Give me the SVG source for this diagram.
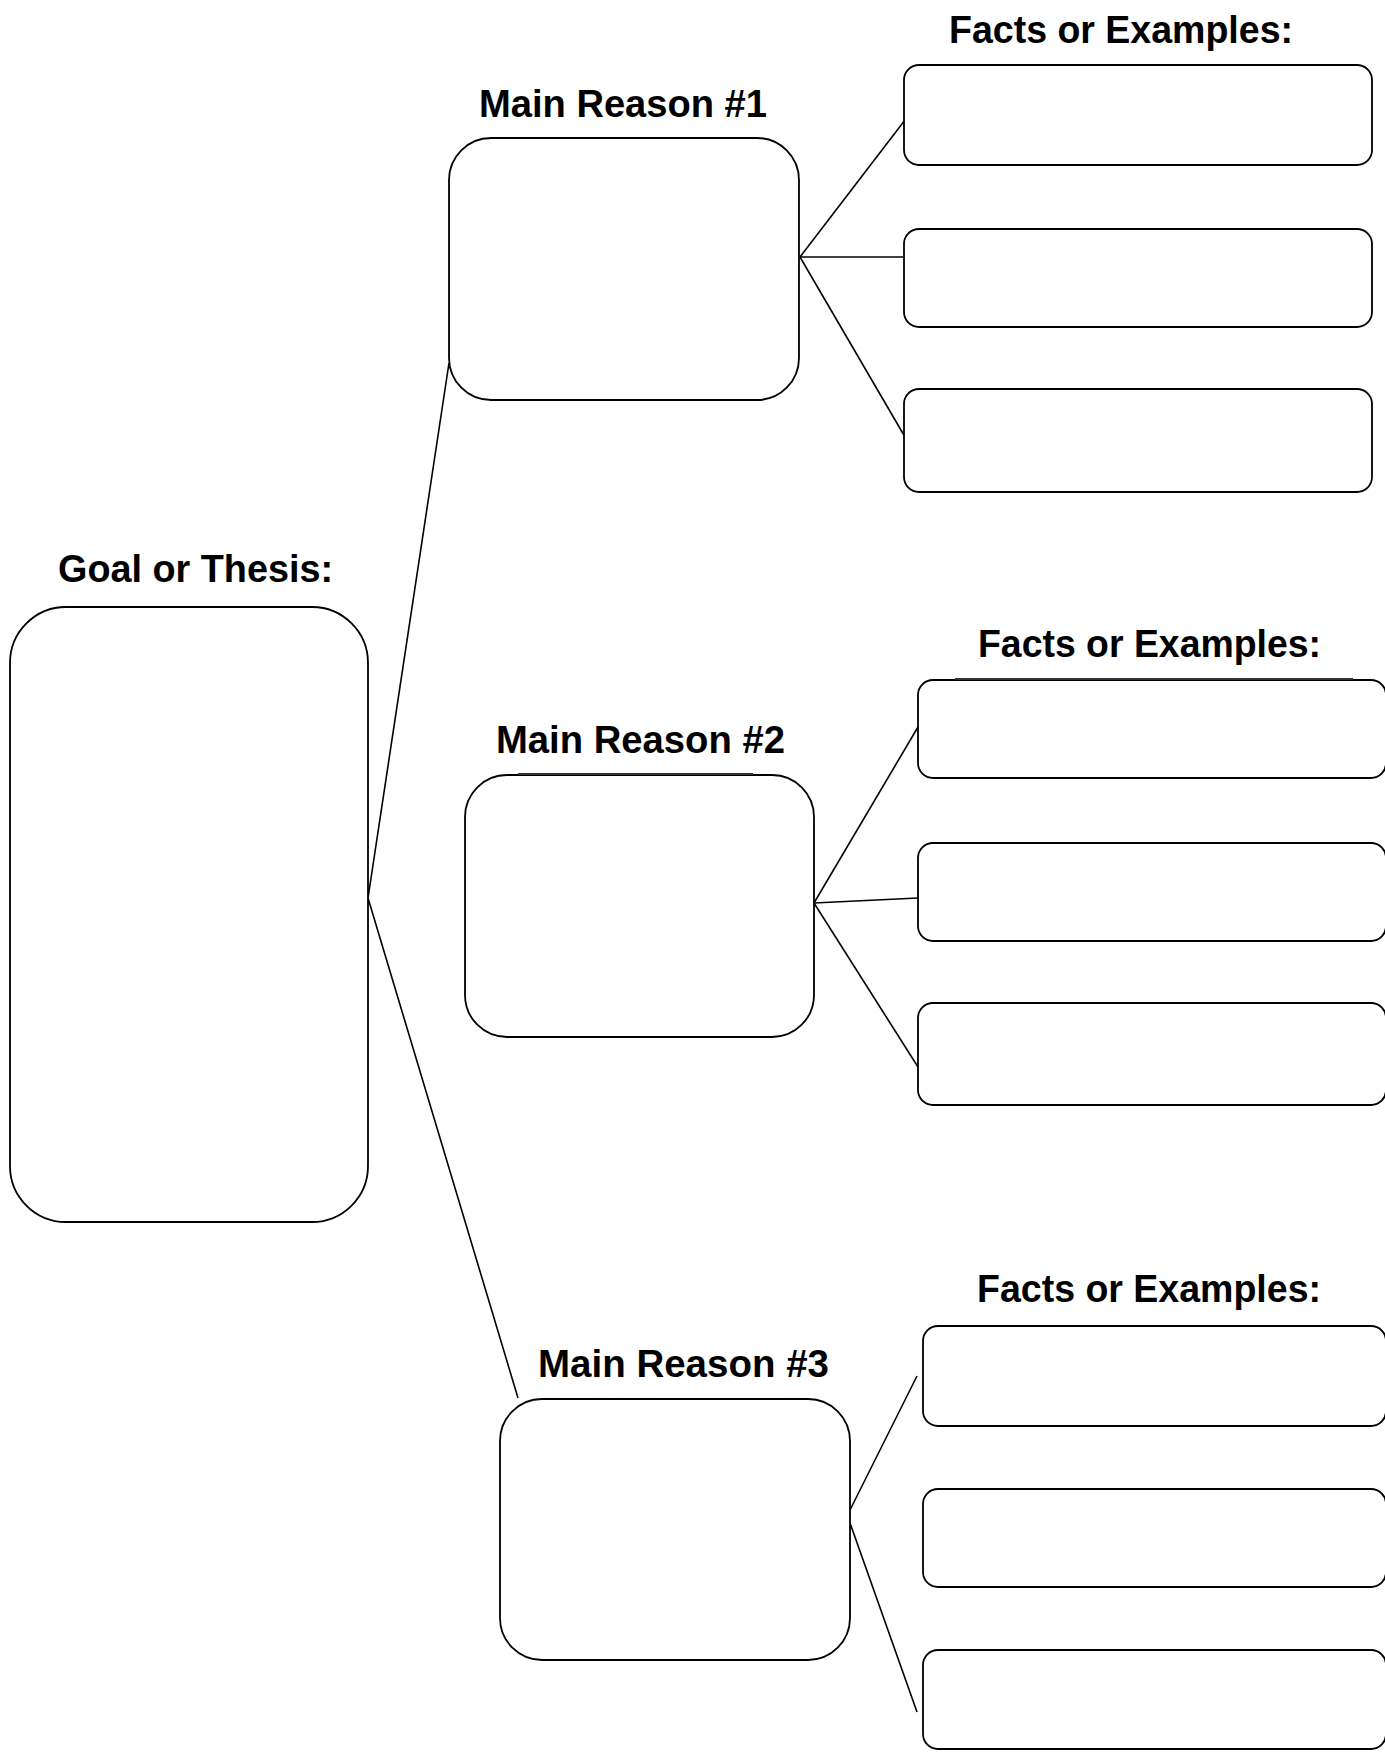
<svg xmlns="http://www.w3.org/2000/svg" width="1385" height="1752" viewBox="0 0 1385 1752">
<style>
.box{fill:#fff;stroke:#000;stroke-width:1.8}
.lbl{font-family:"Comic Sans MS","Liberation Sans",Arial,sans-serif;font-weight:bold;font-size:38px;fill:#000}
.con line{stroke:#000;stroke-width:1.6}
.edge{stroke:#333;stroke-width:2.2}
</style>
<rect width="1385" height="1752" fill="#fff"/>
<g id="connectors" class="con">
<line x1="368" y1="898" x2="449" y2="363"/>
<line x1="368" y1="898" x2="518" y2="1398"/>
<line x1="800" y1="257" x2="905" y2="120"/>
<line x1="800" y1="257" x2="905" y2="257"/>
<line x1="800" y1="257" x2="905" y2="437"/>
<line x1="814" y1="903" x2="918" y2="727"/>
<line x1="814" y1="903" x2="918" y2="898"/>
<line x1="814" y1="903" x2="918" y2="1067"/>
<line x1="850" y1="1510" x2="917" y2="1376"/>
<line x1="850" y1="1523" x2="917" y2="1712"/>
</g>
<g id="goal">
<text class="lbl" x="58" y="582" textLength="275" lengthAdjust="spacingAndGlyphs">Goal or Thesis:</text>
<rect class="box" x="10" y="607" width="358" height="615" rx="56" ry="56"/>
</g>
<g id="reason1">
<text class="lbl" x="479" y="117" textLength="288" lengthAdjust="spacingAndGlyphs">Main Reason #1</text>
<rect class="box" x="449" y="138" width="350" height="262" rx="42" ry="42"/>
</g>
<g id="reason2">
<text class="lbl" x="496" y="753" textLength="289" lengthAdjust="spacingAndGlyphs">Main Reason #2</text>
<rect class="box" x="465" y="775" width="349" height="262" rx="42" ry="42"/>
<line class="edge" x1="518" y1="774" x2="753" y2="774"/>
</g>
<g id="reason3">
<text class="lbl" x="538" y="1377" textLength="291" lengthAdjust="spacingAndGlyphs">Main Reason #3</text>
<rect class="box" x="500" y="1399" width="350" height="261" rx="42" ry="42"/>
</g>
<g id="facts1">
<text class="lbl" x="949" y="43" textLength="344" lengthAdjust="spacingAndGlyphs">Facts or Examples:</text>
<rect id="f1a" class="box" x="904" y="65" width="468" height="100" rx="15" ry="15"/>
<rect id="f1b" class="box" x="904" y="229" width="468" height="98" rx="15" ry="15"/>
<rect id="f1c" class="box" x="904" y="389" width="468" height="103" rx="15" ry="15"/>
</g>
<g id="facts2">
<text class="lbl" x="978" y="657" textLength="343" lengthAdjust="spacingAndGlyphs">Facts or Examples:</text>
<rect id="f2a" class="box" x="918" y="680" width="468" height="98" rx="15" ry="15"/>
<line class="edge" x1="955" y1="679" x2="1353" y2="679"/>
<rect id="f2b" class="box" x="918" y="843" width="468" height="98" rx="15" ry="15"/>
<rect id="f2c" class="box" x="918" y="1003" width="468" height="102" rx="15" ry="15"/>
</g>
<g id="facts3">
<text class="lbl" x="977" y="1302" textLength="344" lengthAdjust="spacingAndGlyphs">Facts or Examples:</text>
<rect id="f3a" class="box" x="923" y="1326" width="463" height="100" rx="15" ry="15"/>
<rect id="f3b" class="box" x="923" y="1489" width="463" height="98" rx="15" ry="15"/>
<rect id="f3c" class="box" x="923" y="1650" width="463" height="99" rx="15" ry="15"/>
</g>
</svg>
